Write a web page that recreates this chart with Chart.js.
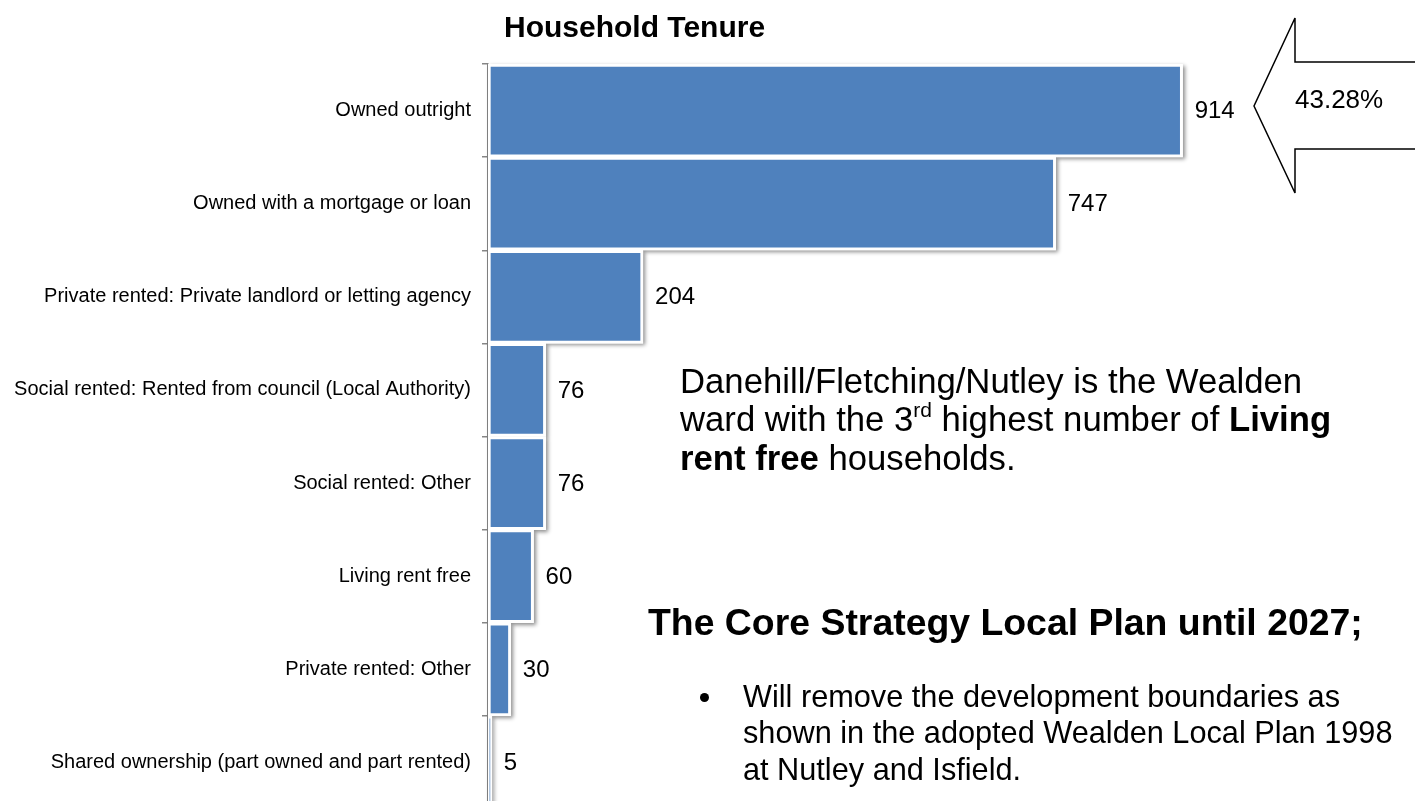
<!DOCTYPE html>
<html>
<head>
<meta charset="utf-8">
<script src="https://cdn.jsdelivr.net/npm/chart.js@4.4.0/dist/chart.umd.min.js"></script>
<style>
  html, body { margin: 0; padding: 0; background: #fff; overflow: hidden; }
  body { width: 1415px; height: 801px; position: relative; font-family: 'Liberation Sans', Arial, sans-serif; color: #000; }
  #wrap { position: absolute; left: 0; top: 0; width: 1415px; height: 832px; }
  .txt { position: absolute; white-space: nowrap; line-height: 1; }
  .dot { position: absolute; width: 9px; height: 9px; border-radius: 50%; background: #000; }
  svg { position: absolute; left: 0; top: 0; }
</style>
</head>
<body>
<div id="wrap"><canvas id="chart"></canvas></div>

<div class="txt" style="left:504px; top:12px; font-size:30px; font-weight:bold;">Household Tenure</div>

<svg width="1415" height="220">
  <polygon points="1420,62 1295,62 1295,18 1254,106 1295,193 1295,149 1420,149" fill="#fff" stroke="#000" stroke-width="1.5"/>
</svg>
<div class="txt" style="left:1295px; top:86px; font-size:26px;">43.28%</div>

<div class="txt" style="left:680px; top:364px; font-size:34.7px;">Danehill/Fletching/Nutley is the Wealden</div>
<div class="txt" style="left:680px; top:402px; font-size:34.7px;">ward with the 3<sup style="font-size:21px; line-height:0; vertical-align:14px;">rd</sup> highest number of <b>Living</b></div>
<div class="txt" style="left:680px; top:441px; font-size:34.7px;"><b>rent free</b> households.</div>

<div class="txt" style="left:648px; top:604px; font-size:37.4px; font-weight:bold;">The Core Strategy Local Plan until 2027;</div>

<div class="dot" style="left:700px; top:693px;"></div>
<div class="txt" style="left:743px; top:682px; font-size:30.7px;">Will remove the development boundaries as</div>
<div class="txt" style="left:743px; top:718px; font-size:30.7px;">shown in the adopted Wealden Local Plan 1998</div>
<div class="txt" style="left:743px; top:755px; font-size:30.7px;">at Nutley and Isfield.</div>

<script>
const categories = [
  'Owned outright',
  'Owned with a mortgage or loan',
  'Private rented: Private landlord or letting agency',
  'Social rented: Rented from council (Local Authority)',
  'Social rented: Other',
  'Living rent free',
  'Private rented: Other',
  'Shared ownership (part owned and part rented)'
];
const households = [914, 747, 204, 76, 76, 60, 30, 5];

Chart.defaults.font.family = "'Liberation Sans', Arial, sans-serif";
Chart.defaults.color = '#000';

// soft grey shadow behind each bar + the value next to it
const barDecor = {
  id: 'barDecor',
  beforeDatasetsDraw(chart) {
    const ctx = chart.ctx;
    chart.getDatasetMeta(0).data.forEach(bar => {
      const { x, y, base, height } = bar.getProps(['x', 'y', 'base', 'height'], true);
      ctx.save();
      ctx.shadowColor = 'rgba(0,0,0,0.45)';
      ctx.shadowBlur = 4;
      ctx.shadowOffsetX = 2;
      ctx.shadowOffsetY = 2;
      ctx.fillStyle = '#fff';
      ctx.fillRect(base, y - height / 2, x - base, height);
      ctx.restore();
    });
  },
  afterDatasetsDraw(chart) {
    const ctx = chart.ctx;
    const values = chart.data.datasets[0].data;
    ctx.save();
    ctx.font = "24px 'Liberation Sans', Arial, sans-serif";
    ctx.fillStyle = '#000';
    ctx.textAlign = 'left';
    ctx.textBaseline = 'middle';
    chart.getDatasetMeta(0).data.forEach((bar, i) => {
      const { x, y } = bar.getProps(['x', 'y'], true);
      ctx.fillText(String(values[i]), x + 12, y + 1);
    });
    ctx.restore();
  }
};

new Chart(document.getElementById('chart'), {
  type: 'bar',
  data: {
    labels: categories,
    datasets: [{
      data: households,
      backgroundColor: '#4F81BD',
      borderColor: '#ffffff',
      borderWidth: 3,
      borderSkipped: false,
      barPercentage: 1,
      categoryPercentage: 1
    }]
  },
  options: {
    indexAxis: 'y',
    responsive: true,
    maintainAspectRatio: false,
    animation: false,
    layout: { padding: { top: 64, right: 167, bottom: 2, left: 0 } },
    plugins: {
      legend: { display: false },
      tooltip: { enabled: false }
    },
    scales: {
      x: { display: false, min: 0, max: 1000 },
      y: {
        z: 1,
        afterFit: s => { s.width = 488; },
        grid: { drawOnChartArea: false, drawTicks: true, tickLength: 6, tickColor: '#868686', lineWidth: 1.5, offset: true },
        border: { display: true, color: '#868686', width: 1.5 },
        ticks: { color: '#000', font: { size: 20 }, padding: 11, autoSkip: false }
      }
    }
  },
  plugins: [barDecor]
});
</script>
</body>
</html>
